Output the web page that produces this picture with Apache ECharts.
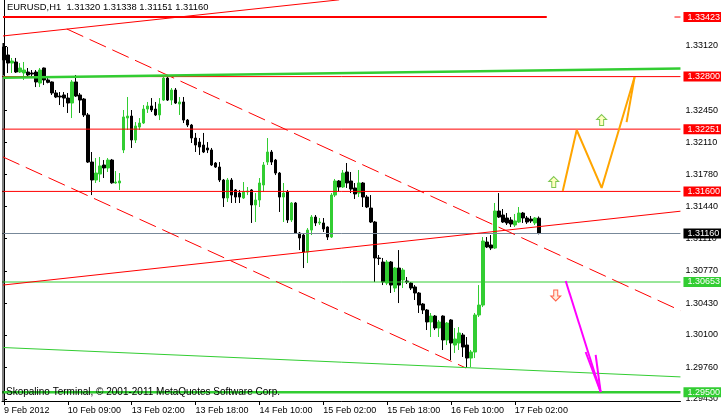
<!DOCTYPE html>
<html>
<head>
<meta charset="utf-8">
<script src="https://cdn.jsdelivr.net/npm/echarts@6/dist/echarts.min.js"></script>
<style>html,body{margin:0;padding:0;background:#fff}#c{width:721px;height:418px}</style>
</head>
<body>
<div id="c"></div>
<script>
// ---- data ----
const headerText = 'EURUSD,H1  1.31320 1.31338 1.31151 1.31160';
const footerText = 'Skopalino Terminal, \u00A9 2001-2011 MetaQuotes Software Corp.';

const xTickIndex  = [0, 16, 32, 48, 64, 80, 96, 112, 128];
const xTickLabels = ['9 Feb 2012','10 Feb 09:00','13 Feb 02:00','13 Feb 18:00','14 Feb 10:00','15 Feb 02:00','15 Feb 18:00','16 Feb 10:00','17 Feb 02:00'];
const yTickValues = [1.29430,1.29760,1.30100,1.30430,1.30770,1.31110,1.31440,1.31780,1.32110,1.32450,1.32790,1.33120];

const opens = [1.33110,1.33026,1.32942,1.32953,1.32848,1.32838,1.32848,1.32838,1.32848,1.32733,
1.32890,1.32765,1.32744,1.32629,1.32597,1.32608,1.32576,1.32524,1.32744,1.32608,
1.32566,1.32399,1.31907,1.31719,1.31782,1.31876,1.31845,1.31928,1.31688,1.31688,
1.32033,1.32367,1.32388,1.32137,1.32273,1.32315,1.32461,1.32493,1.32461,1.32399,
1.32555,1.32785,1.32555,1.32660,1.32514,1.32535,1.32346,1.32294,1.32158,1.32116,
1.32085,1.32054,1.32033,1.31897,1.31855,1.31719,1.31531,1.31719,1.31615,1.31583,
1.31531,1.31594,1.31615,1.31458,1.31510,1.31667,1.31907,1.32012,1.31928,1.31792,
1.31541,1.31594,1.31301,1.31479,1.31165,1.31144,1.30966,1.31196,1.31332,1.31270,
1.31270,1.31228,1.31123,1.31562,1.31709,1.31646,1.31803,1.31709,1.31636,1.31583,
1.31688,1.31541,1.31426,1.31280,1.30904,1.30862,1.30642,1.30862,1.30590,1.30799,
1.30674,1.30663,1.30642,1.30601,1.30538,1.30423,1.30360,1.30235,1.30297,1.30172,
1.30297,1.30047,1.30256,1.29994,1.30015,1.30099,1.29994,1.29858,1.29921,1.30308,
1.30412,1.31071,1.31040,1.31008,1.31395,1.31353,1.31322,1.31301,1.31249,1.31280,
1.31374,1.31322,1.31311,1.31270,1.31320];
const highs = [1.33151,1.33110,1.32995,1.32995,1.32942,1.32953,1.32890,1.32869,1.32869,1.32890,
1.32895,1.32785,1.32750,1.32660,1.32639,1.32639,1.32629,1.32765,1.32817,1.32629,
1.32576,1.32420,1.32012,1.31949,1.31960,1.31928,1.31949,1.31939,1.31813,1.31792,
1.32451,1.32587,1.32451,1.32325,1.32367,1.32503,1.32535,1.32576,1.32535,1.32576,
1.32796,1.32817,1.32681,1.32681,1.32587,1.32587,1.32357,1.32305,1.32211,1.32158,
1.32211,1.32116,1.32054,1.31907,1.31907,1.31730,1.31740,1.31740,1.31625,1.31615,
1.31698,1.31646,1.31625,1.31583,1.31740,1.31907,1.32158,1.32033,1.31939,1.31803,
1.31688,1.31615,1.31489,1.31489,1.31176,1.31165,1.31217,1.31353,1.31353,1.31322,
1.31322,1.31235,1.31583,1.31730,1.31719,1.31824,1.31897,1.31803,1.31688,1.31824,
1.31698,1.31562,1.31562,1.31291,1.30935,1.30904,1.30883,1.30872,1.30810,1.30987,
1.30799,1.30705,1.30653,1.30621,1.30548,1.30433,1.30370,1.30329,1.30308,1.30256,
1.30305,1.30235,1.30265,1.30172,1.30182,1.30120,1.30078,1.29942,1.30329,1.30621,
1.31123,1.31123,1.31144,1.31479,1.31583,1.31416,1.31374,1.31332,1.31364,1.31437,
1.31385,1.31343,1.31343,1.31332,1.31338];
const lows = [1.32817,1.32838,1.32838,1.32838,1.32838,1.32765,1.32796,1.32796,1.32691,1.32691,
1.32712,1.32730,1.32608,1.32576,1.32503,1.32482,1.32420,1.32367,1.32587,1.32420,
1.32378,1.31897,1.31562,1.31688,1.31698,1.31740,1.31803,1.31680,1.31680,1.31615,
1.32001,1.32242,1.32054,1.32106,1.32242,1.32305,1.32420,1.32430,1.32388,1.32346,
1.32545,1.32545,1.32503,1.32514,1.32399,1.32315,1.32273,1.32106,1.32012,1.31981,
1.32001,1.32001,1.31866,1.31845,1.31698,1.31437,1.31489,1.31479,1.31479,1.31479,
1.31521,1.31562,1.31270,1.31280,1.31437,1.31594,1.31876,1.31876,1.31771,1.31385,
1.31280,1.31270,1.31280,1.31155,1.30987,1.30799,1.30851,1.31144,1.31238,1.31249,
1.31176,1.31092,1.31113,1.31541,1.31594,1.31636,1.31636,1.31583,1.31521,1.31541,
1.31437,1.31426,1.31270,1.30653,1.30831,1.30621,1.30621,1.30538,1.30548,1.30433,
1.30590,1.30632,1.30569,1.30465,1.30329,1.30318,1.30151,1.30078,1.30151,1.30078,
1.29942,1.29994,1.29837,1.29911,1.29942,1.29869,1.29754,1.29764,1.29858,1.30287,
1.30391,1.31008,1.30987,1.30998,1.31322,1.31270,1.31249,1.31228,1.31228,1.31270,
1.31270,1.31260,1.31270,1.31249,1.31151];
const closes = [1.32974,1.32942,1.32963,1.32848,1.32890,1.32869,1.32817,1.32827,1.32744,1.32869,
1.32765,1.32740,1.32629,1.32587,1.32587,1.32576,1.32524,1.32744,1.32597,1.32555,
1.32399,1.31907,1.31719,1.31792,1.31866,1.31845,1.31928,1.31690,1.31698,1.31709,
1.32378,1.32388,1.32137,1.32284,1.32315,1.32461,1.32493,1.32451,1.32399,1.32514,
1.32785,1.32555,1.32660,1.32524,1.32535,1.32346,1.32294,1.32158,1.32085,1.32064,
1.32012,1.32033,1.31876,1.31855,1.31719,1.31531,1.31719,1.31562,1.31541,1.31541,
1.31594,1.31604,1.31458,1.31510,1.31688,1.31876,1.32012,1.31907,1.31792,1.31541,
1.31583,1.31301,1.31479,1.31165,1.31113,1.30966,1.31196,1.31332,1.31270,1.31280,
1.31207,1.31123,1.31562,1.31709,1.31646,1.31792,1.31688,1.31625,1.31573,1.31688,
1.31541,1.31437,1.31280,1.30904,1.30898,1.30653,1.30862,1.30621,1.30799,1.30621,
1.30778,1.30653,1.30590,1.30538,1.30412,1.30360,1.30235,1.30297,1.30172,1.30235,
1.30047,1.30224,1.30015,1.30057,1.30120,1.29973,1.29858,1.29921,1.30308,1.30412,
1.31081,1.31019,1.31008,1.31395,1.31332,1.31280,1.31270,1.31259,1.31291,1.31374,
1.31322,1.31280,1.31291,1.31322,1.31160];

// horizontal price levels (full width) with their axis labels
const levelPrices = [1.32800, 1.32251, 1.31600, 1.31160, 1.30653, 1.29500];
const topLevelPrice = 1.33423;

// drawn objects, as [bar index, price] anchors
const trendTopSolid   = [[-0.25, 1.33225], [84, 1.33603]];
const channelUpper    = [[15.75, 1.33298], [169.5, 1.30354]];
const channelLower    = [[-0.25, 1.31960], [115.75, 1.29754]];
const trendRedRising  = [[-0.25, 1.30621], [169.5, 1.31393]];
const trendGreenUpper = [[-0.25, 1.32789], [169.5, 1.32885]];
const trendGreenLower = [[-0.25, 1.29968], [169.5, 1.29661]];
const topLevelSegment = [[-0.25, topLevelPrice], [136, topLevelPrice]];
const topLevelTick    = [[168, topLevelPrice], [169.5, topLevelPrice]];
const orangePath      = [[140, 1.31604], [143.5, 1.32242], [149.75, 1.31636], [158, 1.32796]];
const orangeExtra     = [[156, 1.32325], [158, 1.32796]];
const magentaMain     = [[140.75, 1.30663], [149.5, 1.29503]];
const magentaHead1    = [[145.75, 1.29921], [149.5, 1.29503]];
const magentaHead2    = [[148.25, 1.29890], [149.5, 1.29503]];
const arrowsUp        = [[137.75, 1.31698], [149.75, 1.32346]];
const arrowsDown      = [[138.25, 1.30512]];

const barCount = 170;
const yMin = 1.29409, yMax = 1.33601;

// ---- build ----
const categories = Array.from({length: barCount}, (_, i) => String(i));
const candleData = opens.map((o, i) => [o, closes[i], lows[i], highs[i]]);
const FONT = 'Liberation Sans';
const xLeft = -0.5, xRight = barCount - 0.5;

function seg(data, color, width, type, z) {
  return {type: 'line', xAxisIndex: 1, yAxisIndex: 0, data: data, showSymbol: false, symbol: 'none',
    silent: true, z: z || 3, lineStyle: {color: color, width: width, type: type || 'solid', cap: 'butt'}};
}
function tagged(data, color, width, bg, z) {
  const s = seg(data, color, width, 'solid', z);
  s.endLabel = {show: true, distance: 3, formatter: p => Number(p.value[1]).toFixed(5),
    backgroundColor: bg, color: '#fff', fontSize: 9, fontFamily: FONT, lineHeight: 10, padding: [0, 2, 0, 4]};
  s.labelLayout = {hideOverlap: false};
  return s;
}
const levelStyles = [
  {color: '#ff0000', width: 1, bg: '#ff0000'},
  {color: '#ff0000', width: 1, bg: '#ff0000'},
  {color: '#ff0000', width: 1, bg: '#ff0000'},
  {color: '#778899', width: 1, bg: '#000000'},
  {color: '#32cd32', width: 1, bg: '#32cd32'},
  {color: '#32cd32', width: 2.5, bg: '#32cd32'}
];
const levelSeries = levelPrices.map((p, k) =>
  tagged([[xLeft, p], [xRight, p]], levelStyles[k].color, levelStyles[k].width, levelStyles[k].bg, 3));
levelSeries.push(tagged(topLevelTick, '#ff0000', 1, '#ff0000', 3));

const upPath = 'path://M5,0L10,5L7,5L7,11L3,11L3,5L0,5Z';
const downPath = 'path://M3,0L7,0L7,6L10,6L5,11L0,6L3,6Z';

const option = {
  animation: false,
  backgroundColor: '#ffffff',
  color: ['#ff0000'],
  textStyle: {fontFamily: FONT},
  title: [
    {text: headerText, left: 7, top: 3, padding: 0, textStyle: {fontSize: 9.4, fontWeight: 'normal', color: '#000', fontFamily: FONT}},
    {text: footerText, left: 6, top: 387, padding: 0, textStyle: {fontSize: 10, fontWeight: 'normal', color: '#000', fontFamily: FONT}}
  ],
  grid: {left: 2, right: 39, top: 0, bottom: 17, containLabel: false},
  xAxis: [
    {type: 'category', data: categories, boundaryGap: true,
     axisLine: {show: true, lineStyle: {color: '#000', width: 1}},
     axisTick: {show: true, alignWithLabel: true, length: 4, lineStyle: {color: '#000'},
       interval: (idx) => xTickIndex.indexOf(idx) >= 0},
     axisLabel: {show: true, interval: (idx) => xTickIndex.indexOf(idx) >= 0, align: 'left', margin: 5,
       fontSize: 9, fontFamily: FONT, color: '#000',
       formatter: (v, idx) => { const k = xTickIndex.indexOf(Number(v)); return k >= 0 ? xTickLabels[k] : ''; }},
     splitLine: {show: false}},
    {type: 'value', min: xLeft, max: xRight, show: false}
  ],
  yAxis: [
    {type: 'value', position: 'right', min: yMin, max: yMax, scale: true,
     axisLine: {show: true, lineStyle: {color: '#000', width: 1}},
     axisTick: {show: true, inside: false, length: 3, customValues: yTickValues, lineStyle: {color: '#000'}},
     axisLabel: {show: true, customValues: yTickValues, margin: 5, fontSize: 9, fontFamily: FONT, color: '#000',
       formatter: v => Number(v).toFixed(5)},
     splitLine: {show: false}}
  ],
  series: [
    {type: 'candlestick', xAxisIndex: 0, yAxisIndex: 0, data: candleData, barWidth: 3, z: 2, silent: true,
     itemStyle: {color: '#32cd32', color0: '#000000', borderColor: '#32cd32', borderColor0: '#000000', borderWidth: 1}},
    ...levelSeries,
    seg([[-0.25, highs[0]], [-0.25, yMin]], '#000000', 1),
    seg(trendTopSolid, '#ff0000', 1),
    seg(channelUpper, '#ff0000', 1, [18, 7]),
    seg(channelLower, '#ff0000', 1, [18, 7]),
    seg(trendRedRising, '#ff0000', 1),
    seg(topLevelSegment, '#ff0000', 2),
    seg(trendGreenUpper, '#32cd32', 2.5, 'solid', 4),
    seg(trendGreenLower, '#32cd32', 1),
    seg(orangePath, '#ffa500', 2),
    seg(orangeExtra, '#ffa500', 2),
    seg(magentaMain, '#ff00ff', 2),
    seg(magentaHead1, '#ff00ff', 2),
    seg(magentaHead2, '#ff00ff', 2),
    {type: 'scatter', xAxisIndex: 1, yAxisIndex: 0, data: arrowsUp, symbol: upPath, symbolSize: [10, 11], z: 5, silent: true,
     itemStyle: {color: '#ffffb0', borderColor: '#5cb82c', borderWidth: 1}},
    {type: 'scatter', xAxisIndex: 1, yAxisIndex: 0, data: arrowsDown, symbol: downPath, symbolSize: [10, 11], z: 5, silent: true,
     itemStyle: {color: '#ffe8d8', borderColor: '#ff3c1e', borderWidth: 1}}
  ]
};
const chart = echarts.init(document.getElementById('c'), null, {renderer: 'canvas'});
chart.setOption(option);
</script>
</body>
</html>
